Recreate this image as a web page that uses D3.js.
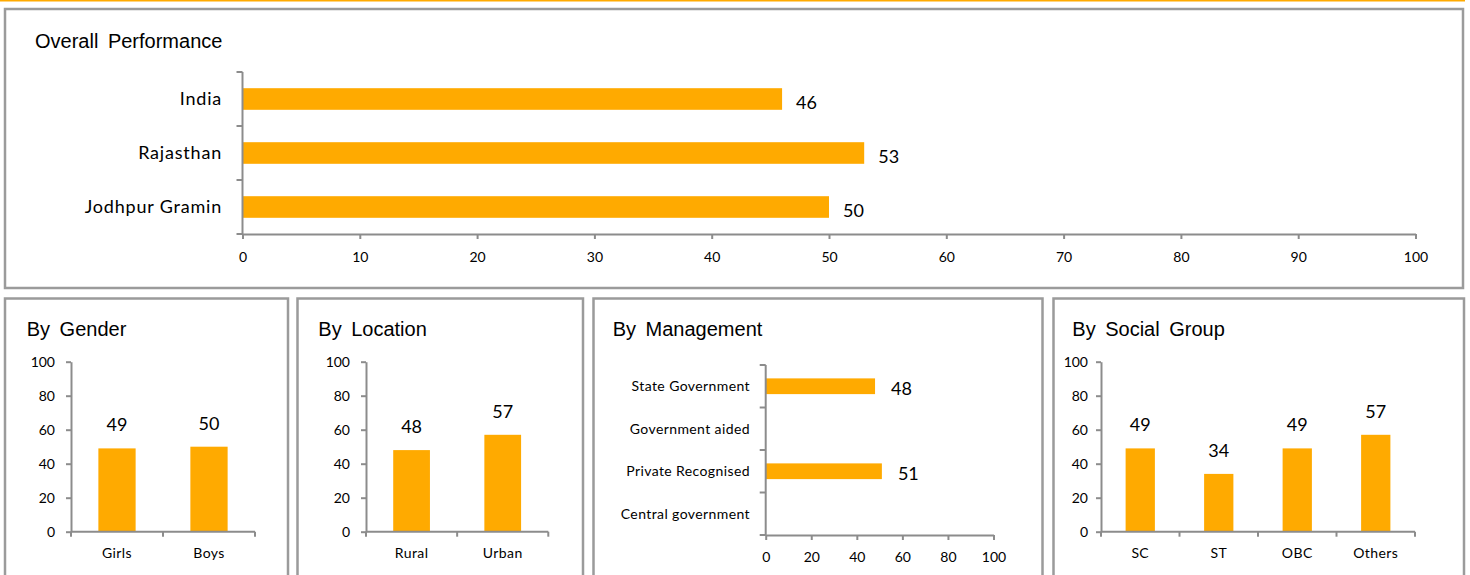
<!DOCTYPE html>
<html><head><meta charset="utf-8">
<script src="https://cdn.jsdelivr.net/npm/d3@7"></script>
<style>
body{margin:0;background:#fff;}
svg{display:block;}
.title{font-family:"Liberation Sans",Arial,sans-serif;font-size:20px;word-spacing:4px;fill:#000;}
text{font-family:Lato,sans-serif;fill:#000;}
</style></head><body>
<svg id="c" width="1470" height="575"></svg>
<script>
// ---- data ----
const overallCategories = ["India", "Rajasthan", "Jodhpur Gramin"];
const overallValues = [46, 53, 50];
const overallTicks = [0, 10, 20, 30, 40, 50, 60, 70, 80, 90, 100];

const genderCategories = ["Girls", "Boys"];
const genderValues = [49, 50];

const locationCategories = ["Rural", "Urban"];
const locationValues = [48, 57];

const managementCategories = ["State Government", "Government aided", "Private Recognised", "Central government"];
const managementValues = [48, null, 51, null];
const managementTicks = [0, 20, 40, 60, 80, 100];

const socialCategories = ["SC", "ST", "OBC", "Others"];
const socialValues = [49, 34, 49, 57];

const verticalTicks = [0, 20, 40, 60, 80, 100];

// ---- styles ----
const ORANGE = "#FFAA00";
const AXIS = "#8c8c8c";
const BORDER = "#9b9b9b";

const svg = d3.select("#c");

// top orange rule
svg.append("rect").attr("x", 0).attr("y", 0).attr("width", 1465).attr("height", 1.5).attr("fill", ORANGE);

// panels
const panels = [
  {x: 5, y: 9, w: 1458, h: 279, title: "Overall Performance", tx: 35, ty: 47.5},
  {x: 5, y: 298.5, w: 283, h: 320, title: "By Gender", tx: 26.7, ty: 335.7},
  {x: 297.5, y: 298.5, w: 285.5, h: 320, title: "By Location", tx: 318.3, ty: 335.7},
  {x: 593.5, y: 298.5, w: 449, h: 320, title: "By Management", tx: 612.7, ty: 335.7},
  {x: 1053.5, y: 298.5, w: 410.5, h: 320, title: "By Social Group", tx: 1072.3, ty: 335.7}
];
panels.forEach(p => {
  svg.append("rect").attr("x", p.x).attr("y", p.y).attr("width", p.w).attr("height", p.h)
    .attr("fill", "none").attr("stroke", BORDER).attr("stroke-width", 2.5);
  svg.append("text").attr("class", "title").attr("x", p.tx).attr("y", p.ty).text(p.title);
});

function styleAxis(g, fs) {
  g.select(".domain").attr("stroke", AXIS).attr("stroke-width", 2);
  g.selectAll(".tick line").attr("stroke", AXIS).attr("stroke-width", 2);
  g.selectAll(".tick text").attr("font-size", fs).attr("font-family", "Lato, sans-serif").attr("fill", "#000");
}

function hbar(c) {
  const x = d3.scaleLinear().domain([0, 100]).range([c.x0, c.x1]);
  const y = d3.scaleBand().domain(c.cats).range([c.y0, c.y1]).padding(0);
  const bw = y.bandwidth(), bh = bw * c.barFrac;
  const data = c.cats.map((k, i) => ({k, v: c.vals[i]})).filter(d => d.v != null);
  const g = svg.append("g");
  g.selectAll("rect.bar").data(data).join("rect").attr("class", "bar")
    .attr("x", x(0)).attr("y", d => y(d.k) + (bw - bh) / 2)
    .attr("width", d => x(d.v) - x(0)).attr("height", bh).attr("fill", ORANGE);
  // x axis
  const xa = g.append("g").attr("transform", `translate(0,${c.y1})`)
    .call(d3.axisBottom(x).tickValues(c.ticks).tickSize(5).tickPadding(c.tickPad).tickSizeOuter(0));
  styleAxis(xa, c.tickFont);
  // y axis line + boundary ticks
  g.append("line").attr("x1", x(0)).attr("x2", x(0)).attr("y1", c.y0).attr("y2", c.y1)
    .attr("stroke", AXIS).attr("stroke-width", 2);
  const bounds = c.cats.map(k => y(k)).concat([c.y1]);
  g.selectAll("line.bt").data(bounds).join("line").attr("class", "bt")
    .attr("x1", x(0) - 6).attr("x2", x(0)).attr("y1", d => d).attr("y2", d => d)
    .attr("stroke", AXIS).attr("stroke-width", 2);
  // category labels
  g.selectAll("text.cat").data(c.cats).join("text").attr("class", "cat")
    .attr("x", x(0) - c.catGap).attr("y", d => y(d) + bw / 2).attr("dy", "0.35em")
    .attr("text-anchor", "end").attr("font-size", c.catFont).attr("letter-spacing", c.catSpacing)
    .text(d => d);
  // value labels
  g.selectAll("text.val").data(data).join("text").attr("class", "val")
    .attr("x", d => x(d.v) + c.labelDx).attr("y", d => y(d.k) + bw / 2 + c.labelDy)
    .attr("font-size", c.valFont).text(d => d.v);
}

function vbar(c) {
  const y = d3.scaleLinear().domain([0, 100]).range([c.y0, c.y1]);
  const x = d3.scaleBand().domain(c.cats).range([c.x0, c.x1]).padding(0);
  const bw = x.bandwidth(), bwid = bw * c.barFrac;
  const data = c.cats.map((k, i) => ({k, v: c.vals[i]}));
  const g = svg.append("g");
  g.selectAll("rect.bar").data(data).join("rect").attr("class", "bar")
    .attr("x", d => x(d.k) + (bw - bwid) / 2).attr("y", d => y(d.v))
    .attr("width", bwid).attr("height", d => y(0) - y(d.v)).attr("fill", ORANGE);
  // y axis
  const ya = g.append("g").attr("transform", `translate(${c.x0},0)`)
    .call(d3.axisLeft(y).tickValues(c.ticks).tickSize(5).tickPadding(c.tickPad).tickSizeOuter(0));
  styleAxis(ya, c.tickFont);
  // x axis line + boundary ticks
  g.append("line").attr("x1", c.x0).attr("x2", c.x1).attr("y1", y(0)).attr("y2", y(0))
    .attr("stroke", AXIS).attr("stroke-width", 2);
  const bounds = c.cats.map(k => x(k)).concat([c.x1]);
  g.selectAll("line.bt").data(bounds).join("line").attr("class", "bt")
    .attr("x1", d => d).attr("x2", d => d).attr("y1", y(0)).attr("y2", y(0) + 5)
    .attr("stroke", AXIS).attr("stroke-width", 2);
  // category labels
  g.selectAll("text.cat").data(c.cats).join("text").attr("class", "cat")
    .attr("x", d => x(d) + bw / 2).attr("y", y(0) + 26.6)
    .attr("text-anchor", "middle").attr("font-size", c.catFont).attr("letter-spacing", 0.4)
    .text(d => d);
  // value labels
  g.selectAll("text.val").data(data).join("text").attr("class", "val")
    .attr("x", d => x(d.k) + bw / 2).attr("y", d => y(d.v) - 17)
    .attr("text-anchor", "middle").attr("font-size", 18).text(d => d.v);
}

hbar({cats: overallCategories, vals: overallValues, ticks: overallTicks,
  x0: 242.5, x1: 1415.5, y0: 72, y1: 234, barFrac: 0.4,
  tickPad: 13, tickFont: 14, catGap: 20.5, catFont: 18, catSpacing: 0.8,
  labelDx: 14, labelDy: 10, valFont: 18});

vbar({cats: genderCategories, vals: genderValues, ticks: verticalTicks,
  x0: 71, x1: 255, y0: 531.7, y1: 361.7, barFrac: 0.405, tickPad: 11, tickFont: 14, catFont: 14});

vbar({cats: locationCategories, vals: locationValues, ticks: verticalTicks,
  x0: 366, x1: 548.3, y0: 531.7, y1: 361.7, barFrac: 0.403, tickPad: 11, tickFont: 14, catFont: 14});

hbar({cats: managementCategories, vals: managementValues, ticks: managementTicks,
  x0: 765.7, x1: 993.5, y0: 365, y1: 535, barFrac: 0.37,
  tickPad: 11.7, tickFont: 14, catGap: 15.7, catFont: 14, catSpacing: 0.4,
  labelDx: 16, labelDy: 8.5, valFont: 18});

vbar({cats: socialCategories, vals: socialValues, ticks: verticalTicks,
  x0: 1101, x1: 1415, y0: 531.7, y1: 361.7, barFrac: 0.373, tickPad: 8, tickFont: 14, catFont: 14});
</script>
</body></html>
